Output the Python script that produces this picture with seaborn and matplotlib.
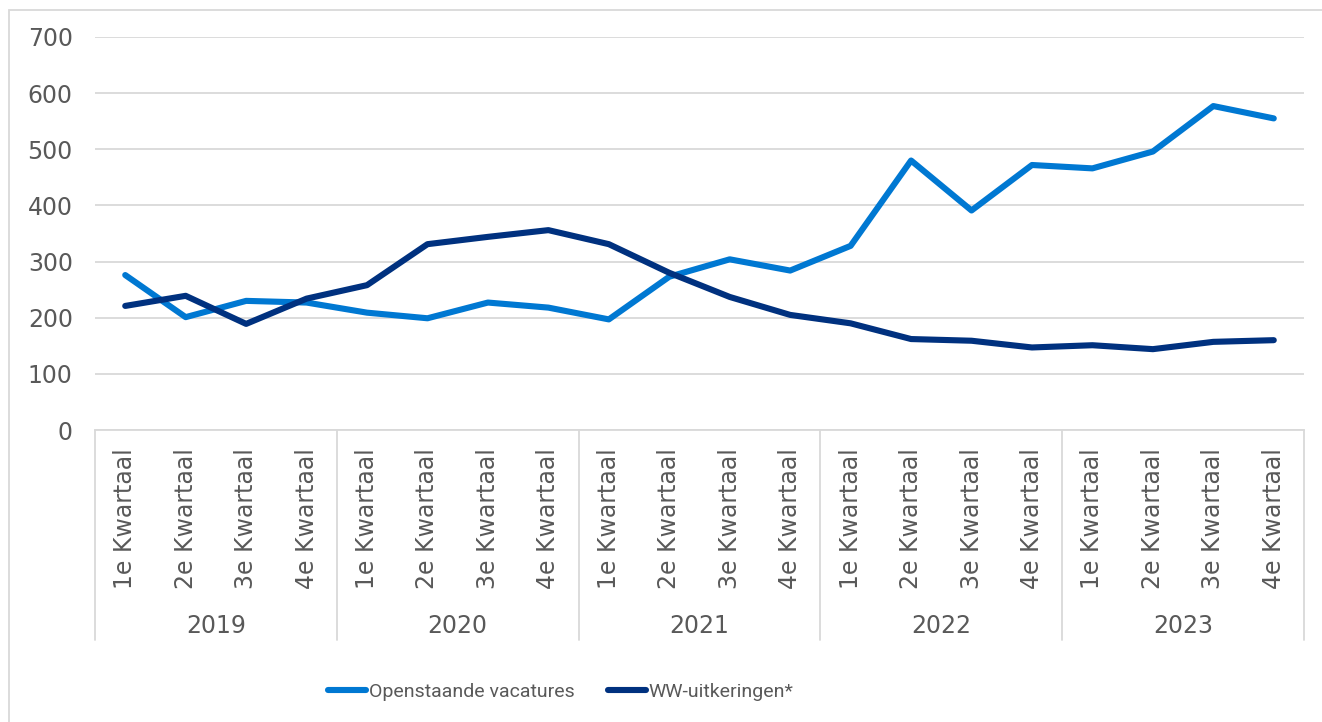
import matplotlib
matplotlib.use("Agg")
import matplotlib.pyplot as plt
import matplotlib.transforms as mtransforms
from matplotlib.patches import Rectangle
from matplotlib.font_manager import FontProperties
import numpy as np
import pandas as pd
import seaborn as sns

# Kwartalen per jaar
years = ["2019", "2020", "2021", "2022", "2023"]
quarters = ["1e Kwartaal", "2e Kwartaal", "3e Kwartaal", "4e Kwartaal"]

# Aantallen (x 1.000)
vacatures = [276, 201, 230, 227, 209, 199, 227, 218,
             197, 273, 304, 284, 328, 480, 391, 472,
             466, 496, 577, 555]
ww_uitkeringen = [221, 239, 189, 234, 258, 331, 344, 356,
                  331, 280, 237, 205, 190, 162, 159, 147,
                  151, 144, 157, 160]

series_names = ["Openstaande vacatures", "WW-uitkeringen*"]
series_colors = ["#0078d2", "#00317f"]

n = len(vacatures)
df = pd.DataFrame({
    "pos": list(range(n)) * 2,
    "waarde": vacatures + ww_uitkeringen,
    "reeks": [series_names[0]] * n + [series_names[1]] * n,
})

sns.set_theme(style="white")
plt.rcParams["font.family"] = ["DejaVu Sans"]
text_grey = "#595959"
grid_grey = "#d9d9d9"

fig = plt.figure(figsize=(13.22, 7.22), dpi=100)
ax = fig.add_axes([95 / 1322, 1 - 430 / 722, (1304 - 95) / 1322, (430 - 37) / 722])

sns.lineplot(data=df, x="pos", y="waarde", hue="reeks",
             palette=dict(zip(series_names, series_colors)),
             linewidth=4.4, ax=ax, legend=False, sort=False)
for ln in ax.get_lines():
    ln.set_solid_capstyle("round")
    ln.set_solid_joinstyle("round")

ax.set_xlim(-0.5, n - 0.5)
ax.set_ylim(0, 700)
ax.set_yticks(np.arange(0, 701, 100))
ax.yaxis.grid(True, color=grid_grey, linewidth=1.3)
ax.set_axisbelow(True)
ax.set_xlabel("")
ax.set_ylabel("")

for side in ["left", "right", "top"]:
    ax.spines[side].set_visible(False)
ax.spines["bottom"].set_color(grid_grey)
ax.spines["bottom"].set_linewidth(1.3)

ax.tick_params(axis="y", length=0, pad=16, labelsize=17, labelcolor=text_grey)
ax.set_xticks(range(n))
ax.set_xticklabels(quarters * len(years), rotation=90, va="top", ha="center")
ax.tick_params(axis="x", length=0, pad=13, labelsize=17, labelcolor=text_grey)

# Jaargroepen onder de categorie-as
trans = mtransforms.blended_transform_factory(ax.transData, ax.transAxes)
sep_bottom = -(640 - 430) / (430 - 37)
for b in np.arange(-0.5, n, 4):
    ax.plot([b, b], [0, sep_bottom], transform=trans, color=grid_grey,
            linewidth=1.3, clip_on=False)
year_y = -(626 - 430) / (430 - 37)
for i, yr in enumerate(years):
    ax.text(i * 4 + 1.5, year_y, yr, transform=trans, ha="center", va="center",
            fontsize=17, color=text_grey)

# Kader rond de grafiek
fig.patches.append(Rectangle((9 / 1322, -0.1), 1.1, 1.1 - 10 / 722,
                             transform=fig.transFigure, fill=False,
                             edgecolor=grid_grey, linewidth=1.3))

# Legenda in een smallere letter
handles = [plt.Line2D([0], [0], color=c, linewidth=4.4, solid_capstyle="round")
           for c in series_colors]
leg = fig.legend(handles, series_names, loc="center",
                 bbox_to_anchor=(561 / 1322, 1 - 692 / 722), ncol=2,
                 frameon=False, handlelength=1.95, handletextpad=0.15,
                 columnspacing=1.7,
                 prop=FontProperties(family="Roboto", size=14))
for t in leg.get_texts():
    t.set_color(text_grey)

fig.savefig("out.png", dpi=100)
